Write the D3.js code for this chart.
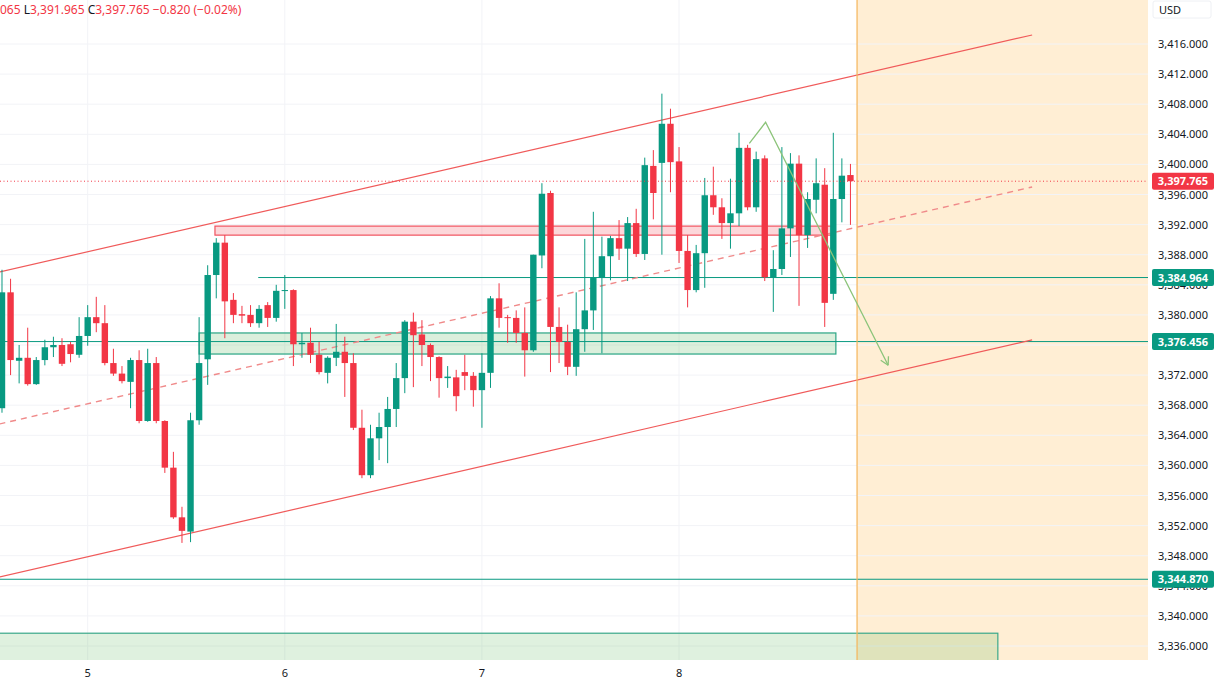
<!DOCTYPE html>
<html><head><meta charset="utf-8">
<script src="https://cdn.jsdelivr.net/npm/d3@7"></script>
<style>
body{margin:0;background:#fff;overflow:hidden}
svg{display:block}
text{font-family:"Noto Sans","DejaVu Sans",sans-serif}
</style>
</head><body>
<svg id="c" width="1216" height="684"></svg>
<script>
// ---- Data (hourly candles, index 0..99) ----
const open  = [3367.6,3383.0,3373.9,3374.3,3370.8,3374.0,3375.7,3376.0,3376.1,3374.7,3377.2,3379.7,3378.9,3373.6,3372.2,3371.1,3374.0,3365.9,3373.6,3365.9,3359.7,3353.1,3351.2,3366.0,3374.1,3385.3,3389.6,3382.0,3380.1,3380.0,3378.9,3381.3,3379.6,3383.2,3383.3,3376.1,3376.3,3374.7,3372.3,3374.3,3375.1,3373.6,3365.0,3358.7,3363.6,3365.1,3367.5,3371.6,3379.1,3377.4,3376.0,3374.4,3371.6,3371.7,3372.4,3371.9,3370.0,3372.3,3382.2,3379.7,3379.6,3377.6,3375.3,3387.9,3396.2,3378.4,3376.4,3373.1,3378.1,3380.6,3384.9,3387.8,3390.2,3388.8,3392.2,3388.1,3399.8,3400.2,3405.4,3400.4,3388.5,3383.3,3388.2,3395.9,3394.3,3392.2,3393.5,3402.2,3394.3,3400.8,3385.0,3386.1,3391.5,3400.1,3390.6,3395.3,3397.3,3382.8,3395.4,3398.585];
const high  = [3386.0,3384.8,3376.0,3378.3,3374.4,3376.7,3377.1,3376.9,3376.4,3379.7,3381.3,3382.4,3381.3,3375.5,3373.2,3374.3,3375.3,3375.5,3374.4,3366.0,3361.8,3354.5,3367.0,3379.7,3386.6,3390.2,3390.6,3382.9,3381.2,3381.3,3381.3,3381.7,3384.0,3385.3,3383.4,3377.6,3378.3,3376.4,3374.5,3378.8,3377.1,3374.9,3367.4,3365.4,3367.0,3369.1,3373.6,3379.3,3380.3,3379.3,3376.2,3374.5,3373.2,3372.7,3374.7,3372.4,3374.9,3382.5,3384.2,3380.0,3380.6,3381.0,3388.0,3397.5,3396.5,3381.0,3378.7,3383.0,3390.1,3393.7,3390.4,3390.5,3392.6,3393.0,3394.1,3400.9,3401.9,3409.4,3407.4,3402.3,3390.6,3389.3,3398.2,3399.7,3395.5,3398.1,3404.2,3402.6,3401.7,3401.2,3388.6,3402.3,3401.5,3401.2,3396.3,3400.8,3399.5,3404.2,3400.8,3400.065];
const low   = [3367.0,3372.0,3370.9,3370.6,3370.7,3373.3,3374.4,3373.2,3373.7,3374.3,3375.9,3377.7,3373.3,3371.9,3370.9,3367.6,3365.6,3365.8,3365.6,3359.0,3352.9,3349.7,3349.8,3365.4,3370.7,3382.2,3376.9,3378.9,3378.9,3378.4,3378.3,3378.4,3379.1,3380.8,3373.2,3374.3,3373.6,3372.1,3370.9,3373.2,3369.1,3364.7,3358.3,3358.3,3360.7,3360.3,3365.1,3369.6,3370.4,3373.2,3371.2,3369.0,3370.3,3367.2,3370.0,3367.8,3365.0,3370.3,3378.3,3376.3,3376.3,3371.8,3375.1,3386.2,3372.4,3373.6,3372.0,3371.9,3375.1,3378.0,3374.9,3384.6,3387.3,3384.5,3387.7,3387.3,3392.7,3388.0,3396.3,3386.9,3381.0,3383.0,3383.6,3393.3,3390.1,3388.8,3391.8,3393.9,3393.7,3384.5,3380.4,3385.3,3387.7,3381.2,3388.9,3393.5,3378.4,3382.0,3392.3,3391.965];
const close = [3383.0,3374.0,3374.3,3370.8,3374.0,3375.7,3376.0,3373.5,3374.8,3377.2,3379.7,3378.9,3373.6,3372.2,3371.2,3374.0,3365.9,3373.6,3365.9,3359.7,3353.1,3351.3,3366.0,3373.6,3385.3,3389.6,3381.8,3380.0,3379.9,3378.9,3380.8,3379.6,3383.2,3383.3,3376.1,3376.3,3374.7,3372.4,3374.3,3375.1,3373.6,3365.0,3358.7,3363.6,3365.1,3367.5,3371.6,3379.1,3377.3,3376.0,3374.4,3371.6,3371.8,3369.2,3371.9,3370.0,3372.3,3382.2,3379.6,3379.6,3377.6,3375.3,3388.0,3396.1,3378.4,3376.4,3373.1,3378.1,3380.6,3384.9,3387.8,3390.2,3388.8,3392.2,3388.1,3399.9,3396.2,3405.4,3400.3,3388.5,3383.3,3388.2,3395.9,3394.3,3392.2,3393.5,3402.2,3394.3,3400.7,3385.0,3386.1,3391.5,3400.1,3390.6,3395.4,3397.5,3381.6,3395.4,3398.5,3397.765];

const dayTickIndex = [10, 33, 56, 79];
const dayTickLabels = ["5", "6", "7", "8"];
const priceTicks = d3.range(3336, 3417, 4);

// Drawings (bar index, price)
const channelTop = [[-0.3, 3385.7], [120.2, 3417.2]];
const channelBottom = [[-0.3, 3345.17], [120.2, 3376.67]];
const channelMid = [[-0.3, 3365.5], [120.2, 3397.0]];
const redZone = [24.85, 97.2, 3391.8, 3390.6];        // x0, x1, top, bottom
const greenZone = [23.0, 97.3, 3377.6, 3374.8];
const bottomZone = [-0.5, 116.2, 3337.7, 3334.0];
const levelPrices = [3384.964, 3376.456, 3344.870];
const levelStarts = [29.9, -0.5, -0.5];
const arrowPts = [[87.2, 3402.8], [89.1, 3405.6], [103.4, 3373.3]];
const forecastStart = 99.77;
const lastPrice = 3397.765;

// ---- Layout ----
const W = 1216, H = 684, plotR = 1148, plotB = 660;
const GREEN = "#089981", RED = "#f23645";
const svg = d3.select("#c");
const x = d3.scaleLinear().domain([-0.233, 133.72]).range([0, plotR]);
const y = d3.scaleLinear().domain([3336, 3416]).range([646, 44]);

svg.append("rect").attr("width", W).attr("height", H).attr("fill", "#fff");
svg.append("clipPath").attr("id", "clip").append("rect").attr("width", plotR).attr("height", plotB);
const g = svg.append("g").attr("clip-path", "url(#clip)");

// forecast shading
g.append("rect").attr("x", x(forecastStart)).attr("y", 0)
  .attr("width", plotR - x(forecastStart)).attr("height", plotB)
  .attr("fill", "rgba(255,152,0,0.17)");

// grid
g.selectAll(".hg").data(priceTicks).join("line")
  .attr("x1", 0).attr("x2", plotR).attr("y1", d => y(d)).attr("y2", d => y(d))
  .attr("stroke", "#f2f3f7").attr("stroke-width", 1);
g.selectAll(".vg").data(dayTickIndex).join("line")
  .attr("x1", d => x(d)).attr("x2", d => x(d)).attr("y1", 0).attr("y2", plotB)
  .attr("stroke", "#f2f3f7").attr("stroke-width", 1);

// zones
function zone(z, fill, stroke) {
  g.append("rect").attr("x", x(z[0])).attr("y", y(z[2]))
    .attr("width", x(z[1]) - x(z[0])).attr("height", y(z[3]) - y(z[2]))
    .attr("fill", fill).attr("stroke", stroke).attr("stroke-width", 1.2);
}
zone(bottomZone, "rgba(76,175,80,0.18)", "#3aa88a");
zone(greenZone, "rgba(76,175,80,0.2)", "#2aa584");
zone(redZone, "rgba(242,54,69,0.2)", "#f0525f");

// horizontal levels
levelPrices.forEach((p, i) => {
  g.append("line").attr("x1", x(levelStarts[i])).attr("x2", plotR)
    .attr("y1", y(p)).attr("y2", y(p)).attr("stroke", GREEN).attr("stroke-width", 1);
});

// channel
const line = d3.line().x(d => x(d[0])).y(d => y(d[1]));
g.append("path").attr("d", line(channelTop)).attr("fill", "none").attr("stroke", "#f05a5a").attr("stroke-width", 1.2);
g.append("path").attr("d", line(channelBottom)).attr("fill", "none").attr("stroke", "#f05a5a").attr("stroke-width", 1.2);
g.append("path").attr("d", line(channelMid)).attr("fill", "none").attr("stroke", "#f08a8a")
  .attr("stroke-width", 1.4).attr("stroke-dasharray", "6,5");

// candles
const idx = d3.range(open.length);
const bw = 6.4;
g.selectAll(".wick").data(idx).join("line")
  .attr("x1", i => x(i)).attr("x2", i => x(i))
  .attr("y1", i => y(high[i])).attr("y2", i => y(low[i]))
  .attr("stroke", i => close[i] >= open[i] ? GREEN : RED).attr("stroke-width", 1);
g.selectAll(".body").data(idx).join("rect")
  .attr("x", i => x(i) - bw / 2).attr("width", bw)
  .attr("y", i => y(Math.max(open[i], close[i])))
  .attr("height", i => Math.max(1, Math.abs(y(open[i]) - y(close[i]))))
  .attr("fill", i => close[i] >= open[i] ? GREEN : RED);

// forecast vertical line
g.append("line").attr("x1", x(forecastStart)).attr("x2", x(forecastStart))
  .attr("y1", 0).attr("y2", plotB).attr("stroke", "#f5b55a").attr("stroke-width", 1.2);

// arrow path
const ARROW = "#8cc47a";
g.append("path").attr("d", line(arrowPts)).attr("fill", "none").attr("stroke", ARROW).attr("stroke-width", 1.3);
{
  const p1 = arrowPts[arrowPts.length - 2], p2 = arrowPts[arrowPts.length - 1];
  const ax = x(p2[0]), ay = y(p2[1]);
  const ang = Math.atan2(ay - y(p1[1]), ax - x(p1[0]));
  const L = 9;
  [ang + Math.PI - 0.5, ang + Math.PI + 0.5].forEach(a => {
    g.append("line").attr("x1", ax).attr("y1", ay)
      .attr("x2", ax + L * Math.cos(a)).attr("y2", ay + L * Math.sin(a))
      .attr("stroke", ARROW).attr("stroke-width", 1.3);
  });
}

// last price dotted line
g.append("line").attr("x1", 0).attr("x2", plotR).attr("y1", y(lastPrice)).attr("y2", y(lastPrice))
  .attr("stroke", RED).attr("stroke-width", 1).attr("stroke-dasharray", "1,2.5");

// ---- Price axis ----
const ax = svg.append("g");
ax.selectAll("text.pt").data(priceTicks).join("text")
  .attr("x", 1158).attr("y", d => y(d) + 4)
  .attr("font-size", 11).attr("fill", "#131722").text(d => d3.format(",.3f")(d));
ax.append("rect").attr("x", 1153).attr("y", 1).attr("width", 58).attr("height", 17).attr("rx", 2)
  .attr("fill", "#fff").attr("stroke", "#eef0f4");
ax.append("text").attr("x", 1159).attr("y", 14).attr("font-size", 11).attr("fill", "#131722").text("USD");

function priceTag(p, color) {
  ax.append("rect").attr("x", 1152).attr("y", y(p) - 8.5).attr("width", 62).attr("height", 17)
    .attr("rx", 2).attr("fill", color);
  ax.append("text").attr("x", 1183).attr("y", y(p) + 4).attr("text-anchor", "middle")
    .attr("font-size", 11).attr("font-weight", "bold").attr("fill", "#fff").text(d3.format(",.3f")(p));
}
priceTag(lastPrice, RED);
levelPrices.forEach(p => priceTag(p, GREEN));

// ---- Time axis ----
svg.selectAll("text.dt").data(dayTickIndex).join("text")
  .attr("x", d => x(d)).attr("y", 677).attr("text-anchor", "middle")
  .attr("font-size", 11).attr("fill", "#131722").text((d, i) => dayTickLabels[i]);

// ---- Header (cropped OHLC legend) ----
const hdr = svg.append("text").attr("x", 0).attr("y", 14).attr("font-size", 12);
hdr.append("tspan").attr("fill", RED).text("065 ");
hdr.append("tspan").attr("fill", "#131722").text("L");
hdr.append("tspan").attr("fill", RED).text("3,391.965 ");
hdr.append("tspan").attr("fill", "#131722").text("C");
hdr.append("tspan").attr("fill", RED).text("3,397.765 −0.820 (−0.02%)");
</script>
</body></html>
